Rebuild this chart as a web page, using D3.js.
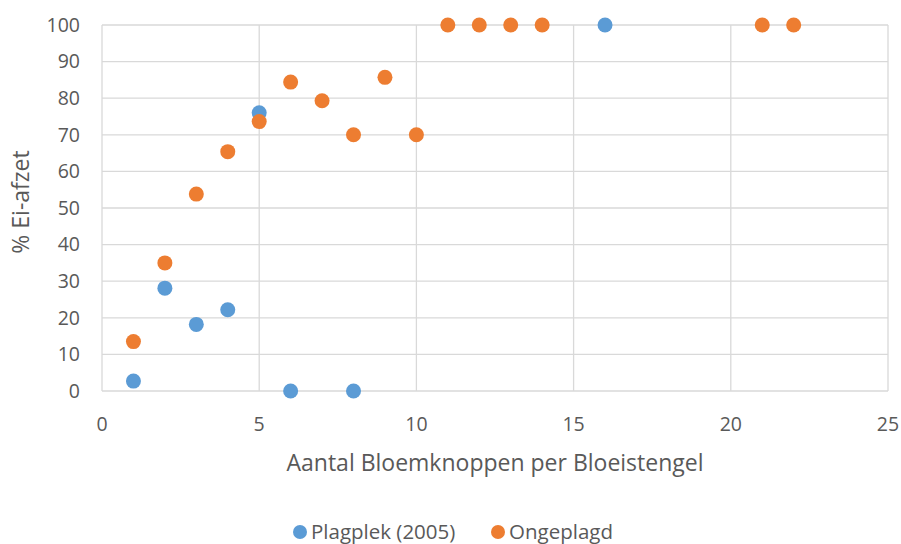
<!DOCTYPE html>
<html lang="nl">
<head>
<meta charset="UTF-8">
<script src="https://d3js.org/d3.v7.min.js"></script>
<style>
  body { margin: 0; background: #fff; }
  text { font-family: 'Open Sans', 'Liberation Sans', sans-serif; fill: #595959; }
</style>
</head>
<body>
<div id="chart"></div>
<script>
// data
var plagX = [1, 2, 3, 4, 5, 6, 8, 16];
var plagY = [2.7, 28.1, 18.2, 22.2, 76, 0, 0, 100];
var ongX = [1, 2, 3, 4, 5, 6, 7, 8, 9, 10, 11, 12, 13, 14, 21, 22];
var ongY = [13.5, 35, 53.8, 65.4, 73.6, 84.4, 79.3, 70, 85.7, 70, 100, 100, 100, 100, 100, 100];
var seriesNames = ["Plagplek (2005)", "Ongeplagd"];
var colors = ["#5B9BD5", "#ED7D31"];
var xTicks = [0, 5, 10, 15, 20, 25];
var yTicks = [0, 10, 20, 30, 40, 50, 60, 70, 80, 90, 100];

var svg = d3.select("#chart").append("svg")
  .attr("width", 901)
  .attr("height", 544);

var x = d3.scaleLinear().domain([0, 25]).range([102, 888]);
var y = d3.scaleLinear().domain([0, 100]).range([391, 25]);

// grid
svg.append("g").selectAll("line.h")
  .data(yTicks)
  .enter().append("line")
  .attr("x1", x(0)).attr("x2", x(25))
  .attr("y1", d => y(d)).attr("y2", d => y(d))
  .attr("stroke", "#d9d9d9").attr("stroke-width", 1.3);

svg.append("g").selectAll("line.v")
  .data(xTicks)
  .enter().append("line")
  .attr("x1", d => x(d)).attr("x2", d => x(d))
  .attr("y1", y(0)).attr("y2", y(100))
  .attr("stroke", "#d9d9d9").attr("stroke-width", 1.3);

// tick labels
svg.append("g").selectAll("text")
  .data(yTicks)
  .enter().append("text")
  .attr("x", 80).attr("y", d => y(d))
  .attr("dy", "0.35em")
  .attr("text-anchor", "end")
  .style("font-size", "19.5px")
  .text(d => d);

svg.append("g").selectAll("text")
  .data(xTicks)
  .enter().append("text")
  .attr("x", d => x(d)).attr("y", 424)
  .attr("dy", "0.35em")
  .attr("text-anchor", "middle")
  .style("font-size", "19.5px")
  .text(d => d);

// axis titles
svg.append("text")
  .attr("x", 495).attr("y", 463)
  .attr("dy", "0.35em")
  .attr("text-anchor", "middle")
  .style("font-size", "23px")
  .text("Aantal Bloemknoppen per Bloeistengel");

svg.append("text")
  .attr("transform", "translate(21,202) rotate(-90)")
  .attr("dy", "0.35em")
  .attr("text-anchor", "middle")
  .style("font-size", "23px")
  .text("% Ei-afzet");

// points
var series = [d3.zip(plagX, plagY), d3.zip(ongX, ongY)];
series.forEach(function(s, i) {
  svg.append("g").selectAll("circle")
    .data(s)
    .enter().append("circle")
    .attr("cx", d => x(d[0]))
    .attr("cy", d => y(d[1]))
    .attr("r", 7.5)
    .attr("fill", colors[i]);
});

// legend
var legX = [300, 498];
seriesNames.forEach(function(n, i) {
  svg.append("circle")
    .attr("cx", legX[i]).attr("cy", 532)
    .attr("r", 7)
    .attr("fill", colors[i]);
  svg.append("text")
    .attr("x", legX[i] + 11).attr("y", 532)
    .attr("dy", "0.35em")
    .style("font-size", "20.5px")
    .text(n);
});
</script>
</body>
</html>
